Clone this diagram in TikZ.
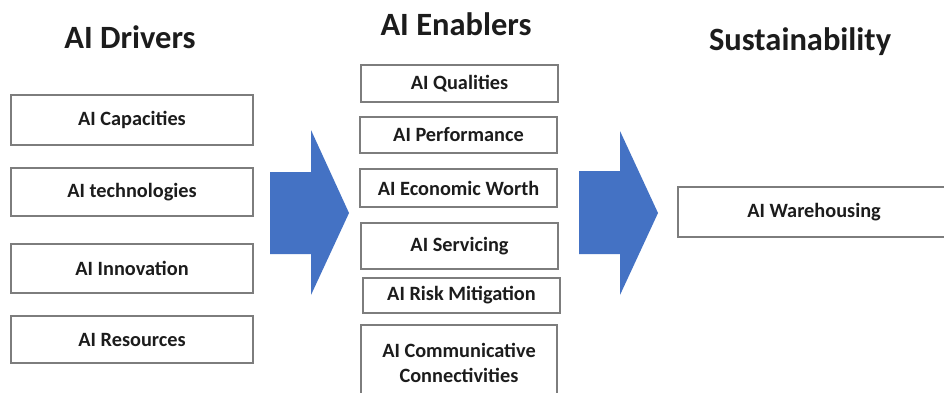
\documentclass[tikz,border=0pt]{standalone}
\usepackage{fontspec}
\setmainfont{Carlito}
\definecolor{arrowblue}{RGB}{68,114,196}
\definecolor{boxgray}{RGB}{125,125,125}
\definecolor{txt}{RGB}{28,28,28}
\begin{document}
\begin{tikzpicture}[x=1pt,y=-1pt,
  title/.style={font=\fontsize{32.5}{38}\selectfont\bfseries, text=txt, anchor=base, inner sep=0pt},
  itembox/.style={draw=boxgray, line width=1.6pt, fill=white, inner sep=0pt, text=txt,
    font=\fontsize{20.3}{25}\selectfont\bfseries, align=center},
  blockarrow/.style={fill=arrowblue, draw=none}]
\useasboundingbox (0,0) rectangle (944,392);
\fill[white] (0,0) rectangle (944,392);
% titles
\node[title] (t1) at (130,48) {AI Drivers};
\node[title] (t2) at (456,35) {AI Enablers};
\node[title] (t3) at (800,50) {Sustainability};
% left column
\node[itembox, minimum width=242, minimum height=50] (d1) at (132,120) {AI Capacities};
\node[itembox, minimum width=242, minimum height=48] (d2) at (132,192) {AI technologies};
\node[itembox, minimum width=242, minimum height=49] (d3) at (132,268.5) {AI Innovation};
\node[itembox, minimum width=242, minimum height=47] (d4) at (132,339.5) {AI Resources};
% middle column
\node[itembox, minimum width=197, minimum height=37] (e1) at (459.5,83.5) {AI Qualities};
\node[itembox, minimum width=197, minimum height=36] (e2) at (458.5,135) {AI Performance};
\node[itembox, minimum width=197, minimum height=38] (e3) at (458.5,188) {AI Economic Worth};
\node[itembox, minimum width=197, minimum height=46] (e4) at (459.5,246) {AI Servicing};
\node[itembox, minimum width=197, minimum height=35] (e5) at (461.5,295.5) {AI Risk Mitigation};
\node[itembox, minimum width=196, minimum height=76] (e6) at (459,363) {AI Communicative\\Connectivities};
% right column
\node[itembox, minimum width=272, minimum height=50] (s1) at (814,212) {AI Warehousing};
% block arrows
\fill[blockarrow] (270,172) -- (311,172) -- (311,130) -- (349,213) -- (311,295) -- (311,254) -- (270,254) -- cycle;
\fill[blockarrow] (579,171) -- (620,171) -- (620,131) -- (658,213) -- (620,295) -- (620,254) -- (579,254) -- cycle;
\end{tikzpicture}
\end{document}
